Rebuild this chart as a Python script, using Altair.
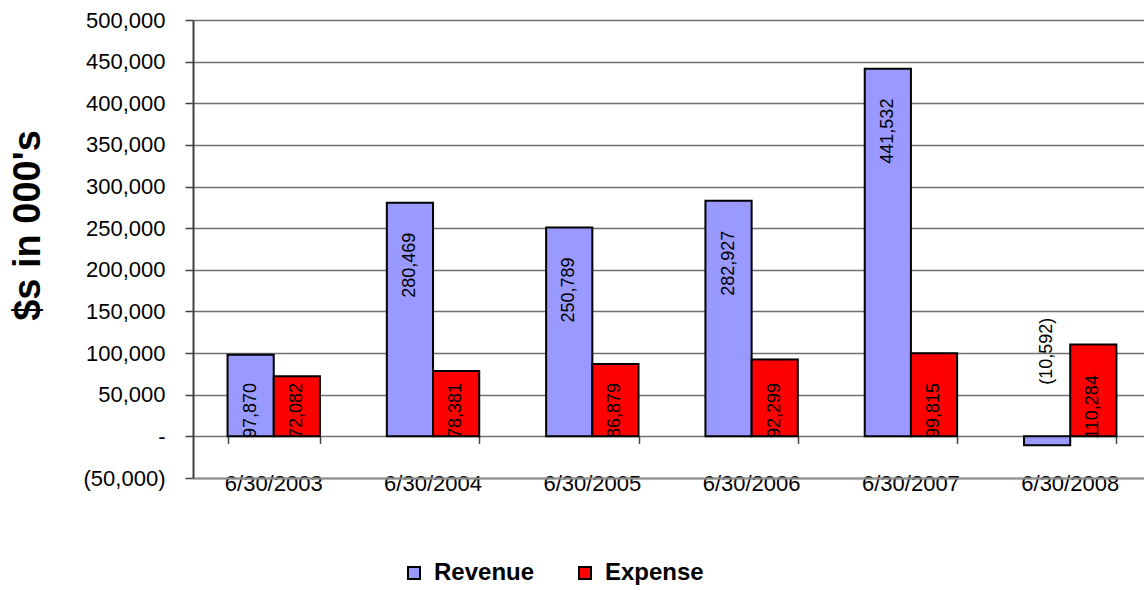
import altair as alt
import pandas as pd

dates = ["6/30/2003", "6/30/2004", "6/30/2005", "6/30/2006", "6/30/2007", "6/30/2008"]
revenue = [97870, 280469, 250789, 282927, 441532, -10592]
expense = [72082, 78381, 86879, 92299, 99815, 110284]
series = ["Revenue", "Expense"]
colors = ["#9999FF", "#FF0000"]
y_ticks = list(range(-50000, 500001, 50000))

rows = []
for d, r, e in zip(dates, revenue, expense):
    rows.append({"date": d, "series": "Revenue", "value": r})
    rows.append({"date": d, "series": "Expense", "value": e})
df = pd.DataFrame(rows)

FONT = "Liberation Sans"

label_expr = ("datum.value == 0 ? '-' : (datum.value < 0 ? '(' + format(-datum.value, ',') + ')'"
              " : format(datum.value, ','))")

x_scale = alt.Scale(domain=dates, paddingInner=0.42, paddingOuter=0.195, align=0.556)
y_scale = alt.Scale(domain=[-50000, 500000], nice=False, zero=False)
off_scale = alt.Scale(domain=series, paddingInner=0, paddingOuter=0)

y_axis = alt.Axis(
    values=y_ticks, labelExpr=label_expr, labelFont=FONT, labelFontSize=22,
    labelColor="black", labelPadding=20, tickSize=8, tickColor="#404040", tickWidth=1.5,
    domainColor="#404040", domainWidth=2, gridColor="#707070", gridWidth=1.5,
    title="$s in 000's", titleFont=FONT, titleFontSize=38, titleFontWeight="bold",
    titleColor="black", titleX=-165, titleY=205, titleAngle=270, titleAlign="center",
    titleBaseline="middle",
)

x_label_axis = alt.Axis(
    title=None, labelAngle=0, labelFont=FONT, labelFontSize=22, labelColor="black",
    labelPadding=-5, ticks=False, domainColor="#909090", domainWidth=2, grid=False,
    orient="bottom",
)
x_tick_axis = alt.Axis(
    title=None, labels=False, ticks=True, tickBand="extent", tickSize=7,
    tickColor="#404040", tickWidth=1.5, domain=False, grid=False, orient="bottom",
    offset=-41.6,
)

legend = alt.Legend(
    title=None, orient="none", direction="horizontal", legendX=209, legendY=541,
    symbolType="square", symbolSize=144, symbolStrokeColor="black", symbolStrokeWidth=2,
    labelFont=FONT, labelFontSize=24, labelFontWeight="bold", labelColor="black",
    labelOffset=8, columnPadding=38,
)

bars = alt.Chart(df).mark_bar(stroke="black", strokeWidth=2).encode(
    x=alt.X("date:N", scale=x_scale, axis=x_label_axis, sort=dates),
    xOffset=alt.XOffset("series:N", sort=series, scale=off_scale),
    y=alt.Y("value:Q", scale=y_scale, axis=y_axis),
    color=alt.Color("series:N", sort=series,
                    scale=alt.Scale(domain=series, range=colors), legend=legend),
)

pos_text = alt.Chart(df).transform_filter("datum.value >= 0").transform_calculate(
    label="format(datum.value, ',')",
    anchor="max(datum.value - 75000, 31000)",
).mark_text(angle=270, font=FONT, fontSize=18, align="center", baseline="middle",
            color="black").encode(
    x=alt.X("date:N", scale=x_scale, axis=x_tick_axis, sort=dates),
    xOffset=alt.XOffset("series:N", sort=series, scale=off_scale),
    y=alt.Y("anchor:Q", scale=y_scale, axis=y_axis),
    text="label:N",
)

neg_text = alt.Chart(df).transform_filter("datum.value < 0").transform_calculate(
    label="'(' + format(-datum.value, ',') + ')'",
).mark_text(angle=270, font=FONT, fontSize=18, align="center", baseline="middle",
            color="black", dx=94).encode(
    x=alt.X("date:N", scale=x_scale, axis=None, sort=dates),
    xOffset=alt.XOffset("series:N", sort=series, scale=off_scale),
    y=alt.Y("value:Q", scale=y_scale, axis=y_axis),
    text="label:N",
)

chart = alt.layer(bars, pos_text, neg_text).resolve_axis(x="independent").properties(
    width=951, height=458,
    autosize=alt.AutoSizeParams(type="none"),
    padding={"left": 193, "top": 20, "right": 0, "bottom": 112},
).configure_view(stroke=None).configure(background="white")

chart.save("out.html", embed_options={"renderer": "svg", "actions": False})
